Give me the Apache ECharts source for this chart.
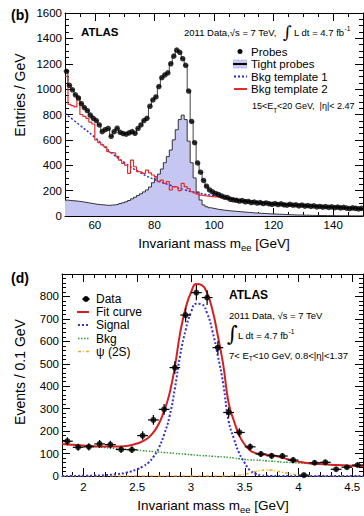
<!DOCTYPE html>
<html>
<head>
<meta charset="utf-8">
<script src="https://cdn.jsdelivr.net/npm/echarts@6/dist/echarts.min.js"></script>
<style>
  html, body { margin: 0; padding: 0; background: #fff; }
  #main { width: 364px; height: 516px; }
</style>
</head>
<body>
<div id="main"></div>
<script>
// ---- panel (b): tag-and-probe mass spectrum, 1 GeV bins from 50 to 150 GeV
var massLo = 50;
var binWidth = 1;
var probes = [
  1140, 1030, 995, 955, 930, 885, 855, 830, 795, 770,
  752, 718, 665, 680, 690, 628, 665, 692, 660, 650,
  645, 655, 665, 652, 690, 718, 752, 770, 865, 915,
  938, 1020, 1090, 1112, 1128, 1200, 1260, 1308, 1290, 1240,
  1188, 985, 745, 578, 418, 345, 280, 235, 205, 190,
  178, 170, 158, 148, 145, 132, 128, 124, 118, 121,
  112, 115, 106, 110, 102, 106, 98, 103, 96, 92,
  98, 90, 96, 88, 85, 92, 85, 88, 80, 86,
  78, 82, 76, 80, 72, 75, 70, 74, 68, 72,
  66, 70, 64, 68, 62, 58, 64, 60, 56, 60
];
var tightProbes = [
  125, 122, 120, 118, 115, 112, 108, 104, 100, 96,
  92, 90, 88, 85, 84, 86, 88, 92, 98, 104,
  112, 122, 135, 148, 162, 175, 190, 205, 228, 262,
  300, 330, 370, 420, 468, 520, 600, 680, 760, 795,
  760, 590, 420, 300, 190, 126, 87, 73, 65, 60,
  55, 51, 48, 45, 42, 40, 38, 36, 34, 32,
  30, 28, 26, 24, 23, 21, 20, 19, 17, 16,
  15, 14, 13, 12, 11, 10, 9, 8, 8, 7,
  6, 6, 5, 5, 4, 4, 4, 3, 3, 3,
  2, 2, 2, 2, 2, 1, 1, 1, 1, 1
];
var bkgTemplate2 = [
  1100, 880, 870, 860, 940, 800, 785, 770, 740, 725,
  600, 578, 560, 545, 508, 500, 495, 470, 440, 415,
  400, 336, 440, 388, 350, 345, 336, 362, 340, 323,
  310, 270, 282, 257, 272, 205, 232, 228, 200, 257,
  231, 215, 191, 182, 172, 165, 160, 157, 154, 151,
  150, 147, 144, 140, 137, 134, 130, 126, 122, 118,
  116, 112, 110, 108, 104, 102, 100, 99, 96, 94,
  92, 92, 90, 88, 86, 85, 84, 82, 80, 92,
  80, 78, 76, 75, 73, 72, 70, 69, 68, 67,
  66, 76, 64, 63, 62, 61, 60, 70, 58, 57
];
var tmpl1Mass = [50, 55, 60, 65, 70, 75, 80, 85, 90, 95, 100, 105, 110, 115, 120, 125, 130, 135, 140, 145, 150];
var tmpl1Values = [810, 715, 620, 510, 420, 345, 288, 245, 207, 180, 160, 142, 127, 114, 103, 94, 86, 79, 72, 66, 61];
var massTicksB = [60, 80, 100, 120, 140];

// ---- panel (d): J/psi fit, 0.1 GeV bins from 1.8 to 4.6 GeV
var jpsiMass = [1.85, 1.95, 2.05, 2.15, 2.25, 2.35, 2.45, 2.55, 2.65, 2.75,
  2.85, 2.95, 3.05, 3.15, 3.25, 3.35, 3.45, 3.55, 3.65, 3.75,
  3.85, 3.95, 4.05, 4.15, 4.25, 4.35, 4.45, 4.55];
var jpsiEvents = [155, 128, 130, 143, 140, 118, 117, 180, 250, 297,
  483, 717, 817, 795, 572, 283, 194, 130, 98, 90,
  89, 71, 4, 59, 61, 30, 39, 49];
var jpsiErr = [18, 16, 16, 17, 17, 15, 15, 19, 22, 24,
  28, 32, 34, 33, 29, 23, 19, 15, 13, 13,
  13, 12, 8, 11, 11, 9, 10, 10];
var binHalfWidth = 0.05;

var curveMass = [1.8, 1.9, 2.0, 2.1, 2.2, 2.3, 2.4, 2.5, 2.55, 2.6,
  2.65, 2.7, 2.75, 2.8, 2.85, 2.9, 2.95, 3.0, 3.05, 3.1,
  3.15, 3.2, 3.25, 3.3, 3.35, 3.4, 3.45, 3.5, 3.55, 3.6,
  3.65, 3.7, 3.75, 3.8, 3.85, 3.9, 3.95, 4.0, 4.1, 4.2,
  4.3, 4.4, 4.5, 4.6];
var fitCurve = [143, 139, 136, 133, 131, 131, 134, 145, 155, 169,
  194, 232, 290, 367, 488, 640, 748, 818, 855, 850,
  815, 738, 624, 495, 325, 245, 180, 140, 114, 102,
  97, 95, 92, 88, 82, 75, 69, 64, 57, 53,
  50, 48, 46, 45];
var signalCurve = [0, 0, 1, 2, 4, 8, 15, 30, 42, 58,
  85, 125, 185, 265, 390, 540, 650, 730, 768, 765,
  725, 645, 535, 410, 245, 165, 100, 58, 25, 10,
  3, 1, 0, 0, 0, 0, 0, 0, 0, 0,
  0, 0, 0, 0];
var bkgCurve = [143, 139, 135, 131, 127, 123, 119, 115, 113, 111,
  109, 107, 105, 103, 101, 99, 97, 95, 93, 91,
  90, 88, 86, 85, 83, 80, 77, 74, 72, 71,
  70, 68, 66, 64, 62, 61, 59, 58, 55, 52,
  50, 48, 46, 44];
var psi2sCurve = [0, 0, 0, 0, 0, 0, 0, 0, 0, 0,
  0, 0, 0, 0, 0, 0, 0, 0, 0, 0,
  0, 0, 0, 0, 0, 2, 4, 8, 14, 20,
  25, 27, 26, 22, 17, 12, 8, 4, 1, 0,
  0, 0, 0, 0];
var massTicksD = [2, 2.5, 3, 3.5, 4, 4.5];

var fontFamily = "'Liberation Sans', Arial, Helvetica, sans-serif";

function stepPoints(lo, width, values) {
  var pts = [];
  for (var i = 0; i < values.length; i++) {
    pts.push([lo + i * width, values[i]]);
  }
  pts.push([lo + values.length * width, values[values.length - 1]]);
  return pts;
}
function centerPoints(lo, width, values) {
  var pts = [];
  for (var i = 0; i < values.length; i++) {
    pts.push([lo + (i + 0.5) * width, values[i]]);
  }
  return pts;
}
function zip(xs, ys, zs) {
  var pts = [];
  for (var i = 0; i < xs.length; i++) {
    pts.push(zs ? [xs[i], ys[i], zs[i]] : [xs[i], ys[i]]);
  }
  return pts;
}
function plainNumber(v) {
  return String(v);
}

// frame axis with the short (minor) ticks
function minorX(grid, pos, min, max, step) {
  return {
    type: "value", gridIndex: grid, position: pos, min: min, max: max, interval: step,
    axisLine: { show: true, onZero: false, lineStyle: { color: "#000", width: 1 } },
    axisTick: { show: true, inside: true, length: 4, lineStyle: { color: "#000" } },
    axisLabel: { show: false },
    splitLine: { show: false },
  };
}
// overlay axis with the long ticks and the labels
function majorX(grid, pos, min, max, ticks, showLabels, margin) {
  return {
    type: "value", gridIndex: grid, position: pos, min: min, max: max,
    axisLine: { show: false, onZero: false },
    axisTick: { show: true, inside: true, length: 8, customValues: ticks, lineStyle: { color: "#000" } },
    axisLabel: {
      show: showLabels, customValues: ticks, margin: margin, formatter: plainNumber,
      color: "#000", fontSize: 11.5, fontFamily: fontFamily,
    },
    splitLine: { show: false },
  };
}
function valueY(grid, pos, max, step, minors, showLabels) {
  return {
    type: "value", gridIndex: grid, position: pos, min: 0, max: max, interval: step,
    axisLine: { show: true, onZero: false, lineStyle: { color: "#000", width: 1 } },
    axisTick: { show: true, inside: true, length: 8, lineStyle: { color: "#000" } },
    minorTick: { show: true, splitNumber: minors, length: 4, lineStyle: { color: "#000" } },
    axisLabel: {
      show: showLabels, margin: 3, showMaxLabel: max % 200 === 0, formatter: plainNumber,
      color: "#000", fontSize: 11.5, fontFamily: fontFamily,
    },
    splitLine: { show: false },
    minorSplitLine: { show: false },
  };
}

function txt(x, y, text, size, extra) {
  var style = {
    text: text, fontSize: size, fontFamily: fontFamily, fill: "#000",
    align: "left", verticalAlign: "middle",
  };
  for (var k in extra) style[k] = extra[k];
  return { type: "text", x: x, y: y, style: style, silent: true };
}
function vtxt(x, y, text, size) {
  return {
    type: "text", x: x, y: y, rotation: Math.PI / 2, silent: true,
    style: { text: text, fontSize: size, fontFamily: fontFamily, fill: "#000", align: "center", verticalAlign: "middle" },
  };
}
function richFor(size) {
  return {
    n: { fontSize: size, fontFamily: fontFamily, lineHeight: size + 5 },
    sub: { fontSize: size * 0.7, fontFamily: fontFamily, verticalAlign: "bottom", lineHeight: size * 0.7 },
    sup: { fontSize: size * 0.7, fontFamily: fontFamily, verticalAlign: "top", lineHeight: size * 0.7 },
  };
}
function legendLine(x0, x1, y, color, width, dash) {
  return {
    type: "line", shape: { x1: x0, y1: y, x2: x1, y2: y }, silent: true,
    style: { stroke: color, lineWidth: width, lineDash: dash || null },
  };
}

var colors = {
  tightFill: "#c6c6f2",
  tightLine: "#333333",
  tmpl1: "#2a2ad6",
  tmpl2: "#e62a2a",
  probeLine: "#444444",
  fit: "#d42020",
  signal: "#3434d0",
  bkg: "#2f9a3a",
  psi2s: "#f5a623",
};

var graphics = [
  // panel (b)
  txt(11, 15, "(b)", 14, { fontWeight: "bold" }),
  txt(81, 32, "ATLAS", 11.5, { fontWeight: "bold" }),
  txt(184, 32, "2011 Data,\u221As = 7 TeV,", 9.5),
  txt(283, 32, "\u222B", 17, { fontFamily: "'DejaVu Serif', serif" }),
  txt(294, 32, "{n|L dt = 4.7 fb}{sup|-1}", 9.5, { rich: richFor(9.5) }),
  { type: "circle", shape: { cx: 240, cy: 51.5, r: 2.5 }, style: { fill: "#000" }, silent: true },
  txt(251, 51.5, "Probes", 11.5),
  { type: "rect", shape: { x: 233, y: 59.5, width: 14, height: 9 }, style: { fill: colors.tightFill }, silent: true },
  legendLine(233, 247, 64, "#000", 2),
  txt(251, 64, "Tight probes", 11.5),
  legendLine(234, 247, 76.5, colors.tmpl1, 2, [2, 2]),
  txt(251, 76.5, "Bkg template 1", 11.5),
  legendLine(234, 247, 89, colors.tmpl2, 2),
  txt(251, 89, "Bkg template 2", 11.5),
  txt(252, 106, "{n|15<E}{sub|T}{n|<20 GeV,  |\u03B7|< 2.47}", 9, { rich: richFor(9) }),
  vtxt(20, 95, "Entries / GeV", 14),
  txt(214, 243, "{n|Invariant mass m}{sub|ee}{n| [GeV]}", 13.5, { align: "center", rich: richFor(13.5) }),

  // panel (d)
  txt(11, 278, "(d)", 14, { fontWeight: "bold" }),
  { type: "line", shape: { x1: 82, y1: 299, x2: 90, y2: 299 }, style: { stroke: "#000", lineWidth: 1 }, silent: true },
  { type: "circle", shape: { cx: 86, cy: 299, r: 3 }, style: { fill: "#000" }, silent: true },
  txt(96, 299, "Data", 12),
  legendLine(77, 89, 312, colors.fit, 2),
  txt(96, 312, "Fit curve", 12),
  legendLine(78, 89, 325, colors.signal, 2, [2, 2]),
  txt(96, 325, "Signal", 12),
  legendLine(78, 89, 338.5, colors.bkg, 1.5, [1.5, 1.5]),
  txt(96, 338.5, "Bkg", 12),
  legendLine(78, 89, 351.5, colors.psi2s, 1.5, [3, 2, 1, 2]),
  txt(96, 351.5, "\u03C8 (2S)", 12),
  txt(229, 295, "ATLAS", 12, { fontWeight: "bold" }),
  txt(229, 315, "2011 Data, \u221As = 7 TeV", 9.5),
  txt(227, 334, "\u222B", 21, { fontFamily: "'DejaVu Serif', serif" }),
  txt(238, 335, "{n|L dt = 4.7 fb}{sup|-1}", 9.5, { rich: richFor(9.5) }),
  txt(229, 355, "{n|7< E}{sub|T}{n|<10 GeV, 0.8<|\u03B7|<1.37}", 9.5, { rich: richFor(9.5) }),
  vtxt(20, 372, "Events / 0.1 GeV", 14),
  txt(213, 505, "{n|Invariant mass m}{sub|ee}{n| [GeV]}", 13.5, { align: "center", rich: richFor(13.5) }),
];

function renderErrorBar(params, api) {
  var x = api.value(0), y = api.value(1), e = api.value(2);
  var left = api.coord([x - binHalfWidth, y]);
  var right = api.coord([x + binHalfWidth, y]);
  var top = api.coord([x, y + e]);
  var bottom = api.coord([x, Math.max(0, y - e)]);
  var st = { stroke: "#000", lineWidth: 1.2 };
  return {
    type: "group",
    children: [
      { type: "line", shape: { x1: left[0], y1: left[1], x2: right[0], y2: right[1] }, style: st },
      { type: "line", shape: { x1: top[0], y1: top[1], x2: bottom[0], y2: bottom[1] }, style: st },
    ],
  };
}

var option = {
  animation: false,
  backgroundColor: "#fff",
  grid: [
    { left: 65, top: 13, width: 298, height: 203 },
    { left: 62, top: 274, width: 301, height: 202 },
  ],
  xAxis: [
    minorX(0, "bottom", 50, 150, 5),
    majorX(0, "bottom", 50, 150, massTicksB, true, 3),
    minorX(0, "top", 50, 150, 5),
    majorX(0, "top", 50, 150, massTicksB, false, 3),
    minorX(1, "bottom", 1.8, 4.6, 0.1),
    majorX(1, "bottom", 1.8, 4.6, massTicksD, true, 5),
    minorX(1, "top", 1.8, 4.6, 0.1),
    majorX(1, "top", 1.8, 4.6, massTicksD, false, 5),
  ],
  yAxis: [
    valueY(0, "left", 1600, 200, 4, true),
    valueY(0, "right", 1600, 200, 4, false),
    valueY(1, "left", 900, 100, 5, true),
    valueY(1, "right", 900, 100, 5, false),
  ],
  graphic: graphics,
  series: [
    {
      name: "Tight probes", type: "line", xAxisIndex: 0, yAxisIndex: 0,
      step: "end", symbol: "none", data: stepPoints(massLo, binWidth, tightProbes),
      lineStyle: { color: colors.tightLine, width: 1 },
      areaStyle: { color: colors.tightFill, opacity: 1 },
      z: 1,
    },
    {
      name: "Bkg template 1", type: "line", xAxisIndex: 0, yAxisIndex: 0,
      smooth: true, symbol: "none", data: zip(tmpl1Mass, tmpl1Values),
      lineStyle: { color: colors.tmpl1, width: 1.5, type: [2, 2] },
      z: 2,
    },
    {
      name: "Bkg template 2", type: "line", xAxisIndex: 0, yAxisIndex: 0,
      step: "end", symbol: "none", data: stepPoints(massLo, binWidth, bkgTemplate2),
      lineStyle: { color: colors.tmpl2, width: 1.2 },
      z: 3,
    },
    {
      name: "Probes line", type: "line", xAxisIndex: 0, yAxisIndex: 0,
      step: "end", symbol: "none", data: stepPoints(massLo, binWidth, probes),
      lineStyle: { color: colors.probeLine, width: 1 },
      z: 4,
    },
    {
      name: "Probes", type: "scatter", xAxisIndex: 0, yAxisIndex: 0,
      symbolSize: 5.5, data: centerPoints(massLo, binWidth, probes),
      itemStyle: { color: "#000" },
      z: 5,
    },

    {
      name: "Bkg", type: "line", xAxisIndex: 4, yAxisIndex: 2,
      smooth: true, symbol: "none", data: zip(curveMass, bkgCurve),
      lineStyle: { color: colors.bkg, width: 1.5, type: [1.5, 1.5] },
      z: 2,
    },
    {
      name: "psi(2S)", type: "line", xAxisIndex: 4, yAxisIndex: 2,
      smooth: true, symbol: "none", data: zip(curveMass, psi2sCurve),
      lineStyle: { color: colors.psi2s, width: 1.5, type: [3, 2, 1, 2] },
      z: 2,
    },
    {
      name: "Signal", type: "line", xAxisIndex: 4, yAxisIndex: 2,
      smooth: true, symbol: "none", data: zip(curveMass, signalCurve),
      lineStyle: { color: colors.signal, width: 2, type: [2, 2] },
      z: 3,
    },
    {
      name: "Fit curve", type: "line", xAxisIndex: 4, yAxisIndex: 2,
      smooth: true, symbol: "none", data: zip(curveMass, fitCurve),
      lineStyle: { color: colors.fit, width: 2 },
      z: 4,
    },
    {
      name: "Data errors", type: "custom", xAxisIndex: 4, yAxisIndex: 2,
      renderItem: renderErrorBar, data: zip(jpsiMass, jpsiEvents, jpsiErr),
      z: 5,
    },
    {
      name: "Data", type: "scatter", xAxisIndex: 4, yAxisIndex: 2,
      symbolSize: 6, data: zip(jpsiMass, jpsiEvents),
      itemStyle: { color: "#000" },
      z: 6,
    },
  ],
};

var chart = echarts.init(document.getElementById("main"), null, { renderer: "svg" });
chart.setOption(option);
</script>
</body>
</html>
